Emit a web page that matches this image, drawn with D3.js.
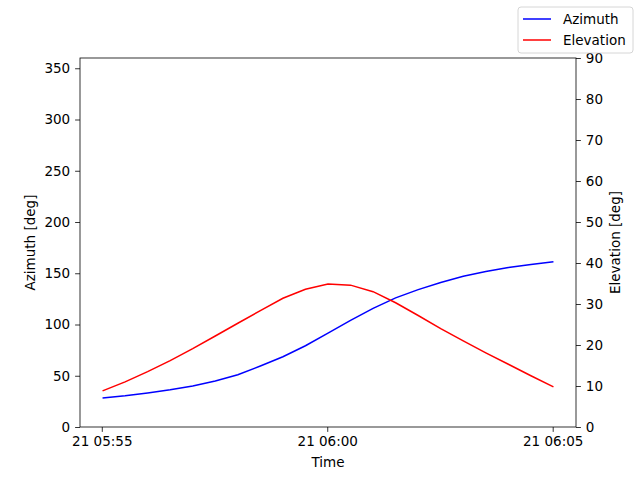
<!DOCTYPE html>
<html>
<head>
<meta charset="utf-8">
<script src="https://cdn.jsdelivr.net/npm/d3@7"></script>
<style>
  html, body { margin: 0; padding: 0; background: #fff; overflow: hidden; }
  svg { display: block; }
  svg text { font-family: "DejaVu Sans", sans-serif; }
</style>
</head>
<body>
<div id="chart"></div>
<script>
// samples every 30 s, starting 21 05:55:01
const startTime = "2024-01-21T05:55:01Z";
const stepSeconds = 30;
const azimuth = [28.3, 30.5, 33.2, 36.3, 40.0, 44.8, 51.0, 59.5, 68.5, 79.3, 91.5,
                 104.0, 115.7, 126.0, 134.0, 141.0, 147.0, 151.7, 155.5, 158.6, 161.2];
const elevation = [8.8, 11.0, 13.5, 16.2, 19.1, 22.2, 25.3, 28.4, 31.4, 33.6, 34.9,
                   34.6, 33.0, 30.3, 27.2, 24.0, 21.0, 18.1, 15.3, 12.5, 9.8];
const azTicks = [0, 50, 100, 150, 200, 250, 300, 350];
const elTicks = [0, 10, 20, 30, 40, 50, 60, 70, 80, 90];
const timeTicks = ["2024-01-21T05:55:00Z", "2024-01-21T06:00:00Z", "2024-01-21T06:05:00Z"];

const width = 640, height = 480;
const margin = { top: 58, right: 64, bottom: 53, left: 80 };
const innerWidth = width - margin.left - margin.right;
const innerHeight = height - margin.top - margin.bottom;
const fontSize = "13.5px";

const t0 = new Date(startTime);
const times = azimuth.map((d, i) => new Date(t0.getTime() + i * stepSeconds * 1000));
const data = times.map((t, i) => ({ time: t, az: azimuth[i], el: elevation[i] }));

// 5% margin on each side like matplotlib
const span = times[times.length - 1] - times[0];
const x = d3.scaleUtc()
    .domain([new Date(times[0] - span * 0.05), new Date(+times[times.length - 1] + span * 0.05)])
    .range([0, innerWidth]);
const yAz = d3.scaleLinear().domain([0, 360]).range([innerHeight, 0]);
const yEl = d3.scaleLinear().domain([0, 90]).range([innerHeight, 0]);

const svg = d3.select("#chart")
    .append("svg")
    .attr("width", width)
    .attr("height", height);

const g = svg.append("g")
    .attr("transform", `translate(${margin.left}, ${margin.top})`);

// lines
const azLine = d3.line().x(d => x(d.time)).y(d => yAz(d.az));
const elLine = d3.line().x(d => x(d.time)).y(d => yEl(d.el));

g.append("path")
    .datum(data)
    .attr("d", azLine)
    .attr("fill", "none")
    .attr("stroke", "#0000ff")
    .attr("stroke-width", 1.5);

g.append("path")
    .datum(data)
    .attr("d", elLine)
    .attr("fill", "none")
    .attr("stroke", "#ff0000")
    .attr("stroke-width", 1.5);

// axes
function styleAxis(sel) {
    sel.select(".domain").remove();
    sel.selectAll(".tick line").attr("stroke", "#000").attr("stroke-width", 0.8);
    sel.selectAll(".tick text").attr("fill", "#000").style("font-size", fontSize);
}

const xAxis = d3.axisBottom(x)
    .tickValues(timeTicks.map(s => new Date(s)))
    .tickFormat(d3.utcFormat("%d %H:%M"))
    .tickSize(4.9)
    .tickPadding(4.9);
g.append("g")
    .attr("transform", `translate(0, ${innerHeight})`)
    .call(xAxis)
    .call(styleAxis);

const leftAxis = d3.axisLeft(yAz)
    .tickValues(azTicks)
    .tickSize(4.9)
    .tickPadding(4.9);
g.append("g")
    .call(leftAxis)
    .call(styleAxis);

const rightAxis = d3.axisRight(yEl)
    .tickValues(elTicks)
    .tickSize(4.9)
    .tickPadding(4.9);
g.append("g")
    .attr("transform", `translate(${innerWidth}, 0)`)
    .call(rightAxis)
    .call(styleAxis);

// frame
g.append("rect")
    .attr("width", innerWidth)
    .attr("height", innerHeight)
    .attr("fill", "none")
    .attr("stroke", "#000")
    .attr("stroke-width", 0.8);

// axis labels
g.append("text")
    .attr("x", innerWidth / 2)
    .attr("y", innerHeight + 40)
    .attr("text-anchor", "middle")
    .style("font-size", fontSize)
    .text("Time");

svg.append("text")
    .attr("transform", `translate(35, ${margin.top + innerHeight / 2}) rotate(-90)`)
    .attr("text-anchor", "middle")
    .style("font-size", fontSize)
    .text("Azimuth [deg]");

svg.append("text")
    .attr("transform", `translate(620, ${margin.top + innerHeight / 2}) rotate(-90)`)
    .attr("text-anchor", "middle")
    .style("font-size", fontSize)
    .text("Elevation [deg]");

// legend
const legendItems = [
    { label: "Azimuth", color: "#0000ff" },
    { label: "Elevation", color: "#ff0000" }
];
const legend = svg.append("g").attr("transform", "translate(518, 7)");
legend.append("rect")
    .attr("width", 115)
    .attr("height", 46)
    .attr("rx", 3)
    .attr("fill", "#fff")
    .attr("fill-opacity", 0.8)
    .attr("stroke", "#cccccc")
    .attr("stroke-width", 0.8);
legendItems.forEach((item, i) => {
    const yPos = 12 + i * 21;
    legend.append("line")
        .attr("x1", 5).attr("x2", 33)
        .attr("y1", yPos).attr("y2", yPos)
        .attr("stroke", item.color)
        .attr("stroke-width", 1.5);
    legend.append("text")
        .attr("x", 45)
        .attr("y", yPos)
        .attr("dy", "0.35em")
        .style("font-size", fontSize)
        .text(item.label);
});
</script>
</body>
</html>
